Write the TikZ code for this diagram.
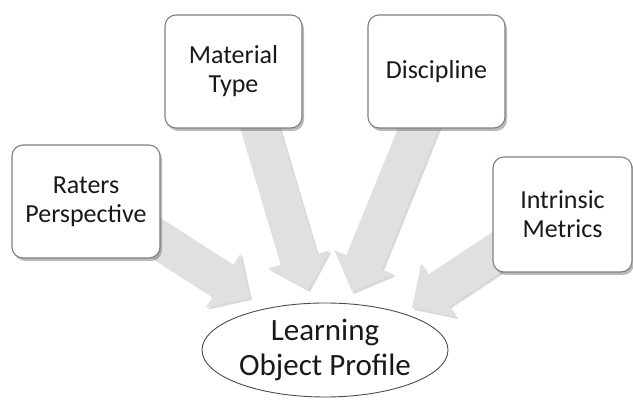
\documentclass[tikz,border=0pt]{standalone}
\usepackage{fontspec}
\setmainfont{Carlito}
\usetikzlibrary{shapes.geometric,arrows.meta,shadows,backgrounds}

\begin{document}
\begin{tikzpicture}[x=1pt,y=1pt,
    factor/.style={draw=black!50, line width=1.1pt, fill=white, rounded corners=11pt,
        align=center, text=black!90, font=\fontsize{26}{29}\selectfont, inner sep=0pt,
        drop shadow={shadow xshift=2pt, shadow yshift=-3pt, opacity=.45, fill=black!60}},
    profile/.style={ellipse, draw=black!70, line width=.9pt, fill=white, align=center,
        text=black!90, font=\fontsize{31}{35}\selectfont,
        minimum width=246pt, minimum height=94pt, inner sep=0pt},
    feed/.style={line width=38pt, draw=black!12, -{Triangle[width=62pt,length=32pt]}},
    feedshadow/.style={feed, draw=black!25, opacity=.6, transform canvas={shift={(2pt,-2pt)}}}
  ]
    \useasboundingbox (0,0) rectangle (633,403);

    % the four factors
    \node[factor, minimum width=148pt, minimum height=113pt] (rp) at (86,201.5) {Raters\\Perspective};
    \node[factor, minimum width=137pt, minimum height=113pt] (mt) at (233.5,331.5) {Material\\Type};
    \node[factor, minimum width=137pt, minimum height=113pt] (dc) at (436.5,331.5) {Discipline};
    \node[factor, minimum width=139pt, minimum height=115pt] (im) at (562.5,188.5) {Intrinsic\\Metrics};

    % the profile
    \node[profile] (lop) at (325,53) {Learning\\Object Profile};

    % arrow ends
    \coordinate (rp-tail) at (99,202);   \coordinate (rp-tip) at (250,105);
    \coordinate (mt-tail) at (251,305);  \coordinate (mt-tip) at (308,113);
    \coordinate (dc-tail) at (427,296);  \coordinate (dc-tip) at (352,111);
    \coordinate (im-tail) at (562,194);  \coordinate (im-tip) at (412,95);

    \begin{scope}[on background layer]
        \foreach \f in {rp,mt,dc,im}
            \draw[feedshadow] (\f-tail) -- (\f-tip);
        \foreach \f in {rp,mt,dc,im}
            \draw[feed] (\f-tail) -- (\f-tip);
    \end{scope}
\end{tikzpicture}
\end{document}
